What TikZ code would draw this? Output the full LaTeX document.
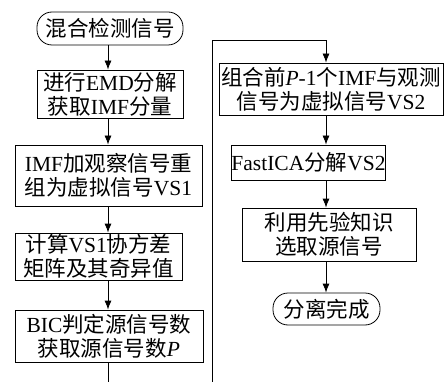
\documentclass[tikz,border=0pt]{standalone}
\usepackage{fontspec}
\setmainfont{Liberation Serif}
\newfontfamily\cjk{Noto Sans CJK SC}
\usetikzlibrary{arrows.meta}
\newcommand{\zh}[1]{{\cjk #1}}
\tikzset{
  box/.style={draw, line width=0.8pt, align=center, inner sep=0pt,
    font=\fontsize{21.5}{24}\selectfont},
  term/.style={box, rounded corners=15pt},
  arr/.style={draw, line width=0.8pt, -{Latex[length=9pt,width=7pt]}},
  link/.style={draw, line width=0.8pt}
}

\begin{document}
\begin{tikzpicture}[x=1pt,y=-1pt]
  \useasboundingbox (0,0) rectangle (444,382);
  \coordinate (lc) at (108,0);
  \coordinate (cut1) at (108,382);
  \coordinate (cut2) at (212,382);
  \coordinate (top) at (326,40);

  % left column
  \node[term, minimum width=146, minimum height=33] (s) at (110,28.5) {\zh{混合检测信号}};
  \node[box, minimum width=146, minimum height=48] (b1) at (110,94)
    {\zh{进行}EMD\zh{分解}\\\zh{获取}IMF\zh{分量}};
  \node[box, minimum width=187, minimum height=61] (b2) at (108.5,175.5)
    {IMF\zh{加观察信号重}\\\zh{组为虚拟信号}VS1};
  \node[box, minimum width=167, minimum height=47] (b3) at (98.5,256.5)
    {\zh{计算}VS1\zh{协方差}\\\zh{矩阵及其奇异值}};
  \node[box, minimum width=188, minimum height=52] (b4) at (109,336)
    {BIC\zh{判定源信号数}\\\zh{获取源信号数}\textit{P}};

  \draw[arr] (s.south -| lc) -- (b1.north -| lc);
  \draw[arr] (b1.south -| lc) -- (b2.north -| lc);
  \draw[arr] (b2.south -| lc) -- (b3.north -| lc);
  \draw[arr] (b3.south -| lc) -- (b4.north -| lc);
  \draw[link] (b4.south -| lc) -- (cut1);

  % right column
  \node[box, minimum width=224, minimum height=52] (r1) at (331,89)
    {\zh{组合前}\textit{P}-1\zh{个}IMF\zh{与观测}\\\zh{信号为虚拟信号}VS2};
  \node[box, minimum width=133, minimum height=35] (r2) at (308.5,162.5)
    {FastICA\zh{分解}VS2};
  \node[box, minimum width=174, minimum height=53] (r3) at (329,234.5)
    {\zh{利用先验知识}\\\zh{选取源信号}};
  \node[term, minimum width=107, minimum height=32] (e) at (326.5,309) {\zh{分离完成}};

  \draw[arr] (cut2) |- (top) -- (r1.north -| top);
  \draw[arr] (r1.south -| top) -- (r2.north -| top);
  \draw[arr] (r2.south -| top) -- (r3.north -| top);
  \draw[arr] (r3.south -| top) -- (e.north -| top);
\end{tikzpicture}
\end{document}
